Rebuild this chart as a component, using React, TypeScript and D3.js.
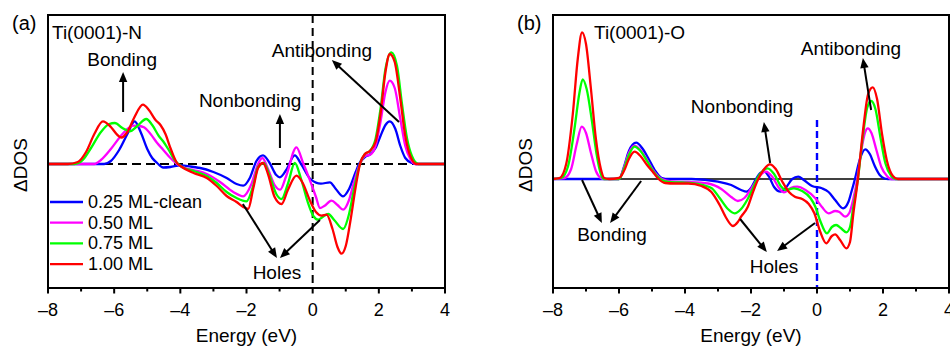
import React from 'react';
import * as d3 from 'd3';

type Pt = [number, number];

// Axis ticks and legend entries
const energyTicks = [-8, -6, -4, -2, 0, 2, 4];
const minorTicks = [-7, -5, -3, -1, 1, 3];
const coverageLabels = ['0.25 ML-clean', '0.50 ML', '0.75 ML', '1.00 ML'];
const seriesColors = ['#0000ff', '#ff00ff', '#00ff00', '#ff0000'];

// ΔDOS (arb. units) vs energy (eV) for Ti(0001)-N
const nClean: Pt[] = [[-8,0],[-6.3,0],[-6.1,0.3],[-5.85,1.4],[-5.6,3.0],[-5.38,4.27],[-5.2,3.2],[-5.0,1.5],[-4.85,0.6],[-4.7,0.1],[-4.52,-0.35],[-4.3,-0.3],[-4.0,-0.13],[-3.6,-0.3],[-3.4,-0.4],[-3.0,-0.8],[-2.6,-1.4],[-2.3,-2.0],[-2.1,-2.17],[-1.9,-1.4],[-1.7,0.3],[-1.5,0.87],[-1.3,0.1],[-1.1,-1.1],[-0.99,-1.33],[-0.8,-0.6],[-0.54,0.87],[-0.35,0],[-0.05,-1.57],[0.25,-1.97],[0.52,-1.83],[0.7,-2.5],[0.92,-3.23],[1.1,-2.5],[1.3,-0.8],[1.4,0],[1.58,0.7],[1.73,0.95],[1.9,1.6],[2.05,2.8],[2.2,3.9],[2.33,4.27],[2.5,3.5],[2.65,1.8],[2.8,0.6],[3.0,0.1],[3.1,0],[4,0]];
const n050: Pt[] = [[-8,0],[-6.6,0],[-6.4,0.4],[-6.1,1.5],[-5.8,2.8],[-5.6,3.5],[-5.43,3.83],[-5.25,3.8],[-5.1,3.67],[-4.9,3.0],[-4.7,2.1],[-4.52,1.43],[-4.3,0.6],[-4.1,0],[-3.95,-0.3],[-3.6,-0.6],[-3.2,-1.0],[-2.8,-1.8],[-2.4,-2.8],[-2.1,-3.23],[-1.85,-2.0],[-1.65,0],[-1.52,0.6],[-1.35,-0.5],[-1.15,-2.1],[-0.98,-2.57],[-0.8,-1.2],[-0.49,1.67],[-0.3,0.2],[-0.09,-1.57],[0.1,-3.3],[0.22,-4.4],[0.35,-4.2],[0.57,-3.67],[0.75,-4.1],[0.92,-4.57],[1.1,-3.6],[1.25,-1.8],[1.43,0],[1.58,0.8],[1.75,0.95],[1.9,1.8],[2.05,4.2],[2.2,7.2],[2.33,8.33],[2.48,7.6],[2.65,4.5],[2.8,1.8],[2.95,0.5],[3.1,0],[4,0]];
const n075: Pt[] = [[-8,0],[-7.2,0],[-6.95,0.4],[-6.7,1.6],[-6.4,3.2],[-6.15,4.0],[-5.98,4.1],[-5.75,3.6],[-5.53,3.27],[-5.3,3.8],[-5.03,4.5],[-4.85,3.9],[-4.65,2.8],[-4.52,2.27],[-4.35,1.4],[-4.15,0.3],[-3.95,-0.3],[-3.6,-0.7],[-3.2,-1.2],[-2.9,-1.9],[-2.6,-2.8],[-2.3,-3.4],[-2.0,-3.73],[-1.8,-2.2],[-1.65,-0.3],[-1.48,0.1],[-1.3,-1.2],[-1.1,-3.0],[-0.94,-3.5],[-0.75,-2.0],[-0.54,0.1],[-0.35,-1.5],[-0.15,-3.8],[0.02,-5.2],[0.17,-5.57],[0.3,-5.3],[0.47,-5.0],[0.65,-5.6],[0.92,-6.5],[1.1,-5.0],[1.25,-2.5],[1.43,0],[1.58,1.0],[1.73,1.3],[1.9,2.5],[2.05,5.5],[2.2,9.5],[2.38,11.17],[2.55,9.8],[2.7,6.0],[2.85,2.6],[3.0,0.8],[3.2,0],[4,0]];
const n100: Pt[] = [[-8,0],[-7.4,0],[-7.1,0.2],[-6.85,1.2],[-6.6,3.0],[-6.34,4.27],[-6.1,3.7],[-5.9,2.9],[-5.78,2.65],[-5.6,3.2],[-5.4,4.6],[-5.13,5.93],[-4.95,5.4],[-4.75,4.4],[-4.6,3.9],[-4.45,3.0],[-4.3,1.6],[-4.12,0.2],[-3.95,-0.3],[-3.6,-0.9],[-3.2,-1.4],[-2.9,-2.2],[-2.6,-3.2],[-2.3,-3.8],[-2.1,-4.3],[-1.95,-4.5],[-1.8,-2.5],[-1.65,-0.4],[-1.5,0.1],[-1.35,-1.0],[-1.15,-3.3],[-0.94,-4.0],[-0.75,-2.6],[-0.49,-1.17],[-0.3,-1.9],[-0.09,-3.6],[0.1,-4.8],[0.27,-5.17],[0.42,-5.07],[0.6,-6.5],[0.75,-8.3],[0.87,-8.97],[1.0,-8.2],[1.15,-5.5],[1.3,-2.3],[1.43,0],[1.58,1.0],[1.73,1.3],[1.9,2.2],[2.05,5.0],[2.2,9.2],[2.33,11.0],[2.48,10.2],[2.65,6.5],[2.8,2.8],[2.95,0.8],[3.14,0],[4,0]];

// ΔDOS (arb. units) vs energy (eV) for Ti(0001)-O
const oClean: Pt[] = [[-8,0],[-6.0,0],[-5.85,1.2],[-5.7,2.8],[-5.48,3.63],[-5.3,3.1],[-5.1,2.0],[-4.9,0.8],[-4.7,0.1],[-4.5,0],[-3.8,0],[-3.0,-0.27],[-2.6,-0.6],[-2.3,-1.1],[-2.14,-1.27],[-2.0,-0.9],[-1.85,0],[-1.72,0.6],[-1.6,0.73],[-1.45,0.2],[-1.3,-0.8],[-1.1,-1.27],[-0.95,-0.9],[-0.75,0],[-0.57,0.23],[-0.4,-0.1],[-0.15,-0.7],[0.15,-0.93],[0.35,-1.3],[0.55,-2.1],[0.79,-2.93],[0.95,-2.3],[1.05,-1.2],[1.15,0],[1.3,2.0],[1.46,2.97],[1.6,2.5],[1.75,1.3],[1.9,0.4],[2.05,0.05],[2.15,0],[4,0]];
const o050: Pt[] = [[-8,0],[-7.65,0.1],[-7.45,1.0],[-7.28,3.5],[-7.13,5.23],[-7.0,4.6],[-6.85,2.6],[-6.7,0.8],[-6.55,0.1],[-6.45,0],[-6.0,0],[-5.85,1.1],[-5.7,2.6],[-5.53,3.33],[-5.35,2.9],[-5.15,1.9],[-4.95,0.8],[-4.7,0],[-4.4,-0.25],[-3.9,-0.3],[-3.3,-0.45],[-2.9,-1.0],[-2.6,-1.8],[-2.4,-2.2],[-2.2,-1.9],[-2.0,-1.0],[-1.8,0],[-1.65,0.6],[-1.55,0.73],[-1.35,0.2],[-1.15,-0.9],[-1.0,-1.33],[-0.8,-0.9],[-0.6,-0.77],[-0.35,-1.1],[-0.05,-1.93],[0.15,-2.8],[0.35,-3.43],[0.55,-3.2],[0.68,-3.3],[0.85,-3.77],[0.98,-3.4],[1.1,-2.0],[1.22,0],[1.35,3.0],[1.46,4.7],[1.54,5.07],[1.65,4.6],[1.8,2.9],[1.95,1.2],[2.12,0.3],[2.25,0],[4,0]];
const o075: Pt[] = [[-8,0],[-7.75,0.1],[-7.55,1.2],[-7.35,5.0],[-7.2,8.6],[-7.1,9.97],[-6.98,9.0],[-6.82,5.8],[-6.68,2.5],[-6.55,0.5],[-6.45,0],[-6.0,0],[-5.85,1.0],[-5.7,2.4],[-5.53,3.23],[-5.35,2.8],[-5.15,1.8],[-4.95,0.7],[-4.75,0],[-4.5,-0.3],[-4.1,-0.35],[-3.6,-0.5],[-3.2,-0.9],[-2.95,-1.9],[-2.7,-3.0],[-2.5,-3.43],[-2.3,-3.0],[-2.1,-2.0],[-1.95,-1.0],[-1.82,0],[-1.65,0.8],[-1.5,1.07],[-1.3,0.5],[-1.1,-0.7],[-0.95,-1.1],[-0.7,-0.93],[-0.45,-1.2],[-0.2,-1.9],[-0.05,-2.77],[0.1,-4.2],[0.3,-5.43],[0.45,-4.8],[0.58,-4.6],[0.72,-4.9],[0.89,-5.33],[1.0,-4.8],[1.1,-2.8],[1.24,0],[1.38,4.0],[1.52,7.1],[1.64,7.8],[1.77,7.0],[1.92,4.2],[2.07,1.6],[2.25,0.3],[2.38,0],[4,0]];
const o100: Pt[] = [[-8,0],[-7.8,0.1],[-7.6,1.5],[-7.4,6.5],[-7.25,12.0],[-7.12,14.67],[-7.0,13.5],[-6.85,9.0],[-6.7,4.0],[-6.55,1.0],[-6.45,0.1],[-6.3,0],[-6.0,0.1],[-5.85,0.8],[-5.7,2.0],[-5.53,2.73],[-5.35,2.3],[-5.15,1.4],[-4.95,0.6],[-4.8,0],[-4.6,-0.4],[-4.3,-0.45],[-3.9,-0.45],[-3.5,-0.7],[-3.2,-1.3],[-2.95,-2.6],[-2.75,-3.9],[-2.55,-4.7],[-2.4,-4.3],[-2.3,-3.77],[-2.1,-2.8],[-1.95,-1.4],[-1.78,0],[-1.6,1.0],[-1.43,1.47],[-1.25,1.0],[-1.05,-0.27],[-0.85,-1.3],[-0.67,-1.77],[-0.45,-2.0],[-0.25,-2.5],[-0.08,-3.43],[0.1,-5.3],[0.28,-6.43],[0.45,-5.7],[0.55,-5.53],[0.7,-6.1],[0.89,-6.93],[1.0,-6.3],[1.1,-3.5],[1.24,0],[1.4,5.0],[1.55,8.5],[1.69,9.17],[1.82,8.0],[1.97,4.5],[2.12,1.8],[2.3,0.3],[2.45,0],[4,0]];

type Label = { text: string; e: number; v: number };
type Arrow = { from: Pt; to: Pt };

const nLabels: Label[] = [
  { text: 'Bonding', e: -5.76, v: 10.5 },
  { text: 'Nonbonding', e: -1.89, v: 6.4 },
  { text: 'Antibonding', e: 0.28, v: 11.4 },
  { text: 'Holes', e: -1.08, v: -10.8 },
];
const nArrows: Arrow[] = [
  { from: [-5.73, 5.2], to: [-5.73, 9.2] },
  { from: [-0.99, 1.6], to: [-0.99, 5.0] },
  { from: [2.61, 4.2], to: [0.58, 10.4] },
  { from: [-2.11, -4.0], to: [-1.08, -9.4] },
  { from: [0.22, -5.6], to: [-0.99, -9.4] },
];
const oLabels: Label[] = [
  { text: 'Antibonding', e: 1.03, v: 13.1 },
  { text: 'Nonbonding', e: -2.27, v: 7.3 },
  { text: 'Bonding', e: -6.21, v: -5.5 },
  { text: 'Holes', e: -1.3, v: -8.7 },
];
const oArrows: Arrow[] = [
  { from: [1.64, 6.9], to: [1.39, 12.1] },
  { from: [-1.42, 1.6], to: [-1.61, 5.7] },
  { from: [-7.12, -0.1], to: [-6.52, -4.4] },
  { from: [-5.33, -0.2], to: [-6.27, -4.4] },
  { from: [-2.33, -4.0], to: [-1.52, -7.3] },
  { from: [-0.06, -4.4], to: [-1.21, -7.2] },
];

const FONT = '"Liberation Sans", Arial, Helvetica, sans-serif';
const TOP = 15;
const BOTTOM = 288;

function ArrowMark({ x1, y1, x2, y2 }: { x1: number; y1: number; x2: number; y2: number }) {
  const dx = x2 - x1, dy = y2 - y1;
  const len = Math.hypot(dx, dy);
  const ux = dx / len, uy = dy / len;
  const hl = 10, hw = 4.2;
  const bx = x2 - ux * hl, by = y2 - uy * hl;
  const px = -uy, py = ux;
  const head = `${x2},${y2} ${bx + px * hw},${by + py * hw} ${bx - px * hw},${by - py * hw}`;
  return (
    <g>
      <line x1={x1} y1={y1} x2={bx + ux * 2} y2={by + uy * 2} stroke="#000" strokeWidth={2} />
      <polygon points={head} fill="#000" />
    </g>
  );
}

type PanelProps = {
  id: string;
  tag: string;
  title: string;
  titleX: number;
  left: number;
  right: number;
  yDomain: [number, number];
  series: Pt[][];
  labels: Label[];
  arrows: Arrow[];
  variant: 'N' | 'O';
};

function Panel(p: PanelProps) {
  const x = d3.scaleLinear().domain([-8, 4]).range([p.left, p.right]);
  const y = d3.scaleLinear().domain(p.yDomain).range([BOTTOM, TOP]);
  const line = d3
    .line<Pt>()
    .x((d) => x(d[0]))
    .y((d) => y(d[1]))
    .curve(d3.curveMonotoneX);
  const cx = (p.left + p.right) / 2;
  const clipId = `clip-${p.id}`;
  return (
    <g fontFamily={FONT} fill="#000">
      <defs>
        <clipPath id={clipId}>
          <rect x={p.left} y={TOP} width={p.right - p.left} height={BOTTOM - TOP} />
        </clipPath>
      </defs>
      <g clipPath={`url(#${clipId})`}>
        {p.variant === 'N' ? (
          <>
            <line x1={p.left} x2={p.right} y1={y(0)} y2={y(0)} stroke="#000" strokeWidth={2} strokeDasharray="9,5" />
            <line x1={x(0)} x2={x(0)} y1={TOP} y2={BOTTOM} stroke="#000" strokeWidth={2} strokeDasharray="8,5" />
          </>
        ) : (
          <>
            <line x1={p.left} x2={p.right} y1={y(0)} y2={y(0)} stroke="#000" strokeWidth={1.6} />
            <line x1={x(0)} x2={x(0)} y1={y(5.9)} y2={BOTTOM} stroke="#0000ff" strokeWidth={2.4} strokeDasharray="7,4" />
          </>
        )}
        {p.series.map((s, i) => (
          <path key={i} d={line(s) || ''} fill="none" stroke={seriesColors[i]} strokeWidth={2.3} strokeLinejoin="round" />
        ))}
      </g>
      <rect x={p.left} y={TOP} width={p.right - p.left} height={BOTTOM - TOP} fill="none" stroke="#000" strokeWidth={2} />
      {energyTicks.map((t) => (
        <g key={`M${t}`}>
          <line x1={x(t)} x2={x(t)} y1={BOTTOM} y2={BOTTOM + 5.5} stroke="#000" strokeWidth={2} />
          <text x={x(t)} y={310} fontSize={18} textAnchor="middle" dominantBaseline="central">
            {t < 0 ? `\u2013${Math.abs(t)}` : `${t}`}
          </text>
        </g>
      ))}
      {minorTicks.map((t) => (
        <line key={`m${t}`} x1={x(t)} x2={x(t)} y1={BOTTOM} y2={BOTTOM + 3.5} stroke="#000" strokeWidth={2} />
      ))}
      <text x={cx} y={335} fontSize={19} textAnchor="middle" dominantBaseline="central">
        Energy (eV)
      </text>
      <text
        transform={`translate(${p.left - 28},165) rotate(-90)`}
        fontSize={19}
        textAnchor="middle"
        dominantBaseline="central"
      >
        ΔDOS
      </text>
      <text x={p.left - 36} y={23} fontSize={20} dominantBaseline="central">
        {p.tag}
      </text>
      <text x={p.titleX} y={32} fontSize={19} dominantBaseline="central">
        {p.title}
      </text>
      {p.labels.map((l) => (
        <text key={l.text} x={x(l.e)} y={y(l.v)} fontSize={19} textAnchor="middle" dominantBaseline="central">
          {l.text}
        </text>
      ))}
      {p.arrows.map((a, i) => (
        <ArrowMark key={i} x1={x(a.from[0])} y1={y(a.from[1])} x2={x(a.to[0])} y2={y(a.to[1])} />
      ))}
      {p.variant === 'N' &&
        coverageLabels.map((c, i) => (
          <g key={c}>
            <line x1={50} x2={83} y1={202 + i * 20.7} y2={202 + i * 20.7} stroke={seriesColors[i]} strokeWidth={2.3} />
            <text x={88} y={202 + i * 20.7} fontSize={18} dominantBaseline="central">
              {c}
            </text>
          </g>
        ))}
    </g>
  );
}

export default function App() {
  return (
    <svg
      width={950}
      height={346}
      viewBox="0 0 950 346"
      style={{ position: 'absolute', left: 0, top: 0, background: '#fff' }}
    >
      <rect width={950} height={346} fill="#fff" />
      <Panel
        id="a"
        tag="(a)"
        title="Ti(0001)-N"
        titleX={52}
        left={48}
        right={445}
        yDomain={[-12.4, 14.9]}
        series={[nClean, n050, n075, n100]}
        labels={nLabels}
        arrows={nArrows}
        variant="N"
      />
      <Panel
        id="b"
        tag="(b)"
        title="Ti(0001)-O"
        titleX={594}
        left={553}
        right={949}
        yDomain={[-10.9, 16.4]}
        series={[oClean, o050, o075, o100]}
        labels={oLabels}
        arrows={oArrows}
        variant="O"
      />
    </svg>
  );
}
